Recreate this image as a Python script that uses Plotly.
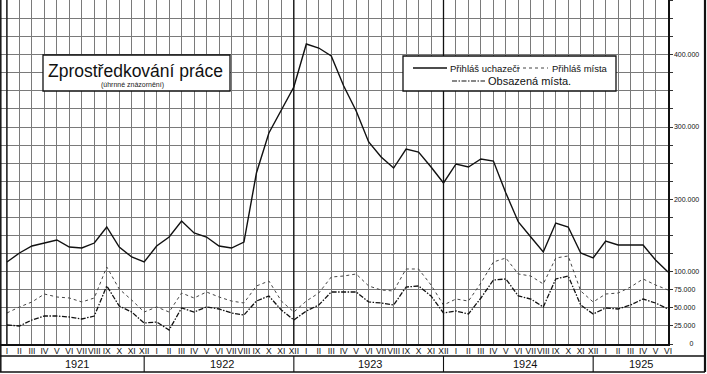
import plotly.graph_objects as go

# ---------------- data ----------------
MONTHS = ["I", "II", "III", "IV", "V", "VI", "VII", "VIII", "IX", "X", "XI", "XII"]
month_labels = MONTHS * 4 + MONTHS[:6]          # I 1921 .. VI 1925
YEARS = ["1921", "1922", "1923", "1924", "1925"]
YEAR_LABEL_POS = [5.6, 17.2, 29.1, 41.5, 50.8]  # centre of each year cell (month index)
YEAR_SEPARATORS = [11, 23, 35, 47]               # December of each year

# Přihláš. uchazeči (registered applicants)
uchazeci = [
    113400, 125800, 135500, 139600, 143800, 134100, 132700, 139600, 161800, 134100, 120300, 113400,
    135500, 147900, 170100, 153500, 147900, 135500, 132700, 141000, 236400, 291700, 323500, 355300,
    414800, 409200, 398200, 356700, 322100, 279300, 258500, 243300, 269600, 265400, 244700, 222600,
    248900, 244700, 255800, 253000, 208800, 168700, 147900, 127200, 167300, 161800, 125800, 118900,
    142400, 136900, 136900, 136900, 116100, 99500,
]
# Přihláš. místa (registered vacancies)
mista = [
    42900, 51200, 58100, 69100, 65000, 63600, 58100, 63600, 106500, 76000, 60800, 44200,
    51200, 44200, 70500, 63600, 71900, 65000, 59400, 56700, 80200, 87100, 59400, 44200,
    59400, 70500, 92600, 94000, 96800, 80200, 74700, 73300, 103700, 103700, 81600, 53900,
    62200, 59400, 84300, 113400, 118900, 96800, 94000, 83000, 118900, 121700, 73300, 58100,
    69100, 70500, 78800, 89900, 81600, 74700,
]
# Obsazená místa (filled vacancies)
obsazena = [
    26300, 24900, 33200, 38700, 38700, 37300, 34600, 38700, 80200, 52500, 44200, 29000,
    30400, 19400, 49800, 44200, 51200, 48400, 42900, 40100, 59400, 66400, 47000, 33200,
    45600, 53900, 71900, 71900, 71900, 58100, 56700, 53900, 78800, 80200, 66400, 42900,
    45600, 41500, 63600, 88500, 89900, 66400, 62200, 51200, 89900, 94000, 53900, 41500,
    49800, 48400, 53900, 62200, 56700, 48400,
]

Y_LABEL_VALUES = [0, 25000, 50000, 75000, 100000, 200000, 300000, 400000]
Y_LABEL_TEXTS = ["\u00a0\u00a0\u00a0\u00a0\u00a0\u00a0\u00a0\u00a00", "25.000", "50.000", "75.000",
                 "100.000", "200.000", "300.000", "400.000"]

TITLE = "Zprostředkování práce"
SUBTITLE = "(úhrnné znázornění)"
NAMES = ["Přihláš uchazeči", "Přihláš místa", "Obsazená místa."]

# ---------------- geometry helpers (layout only) ----------------
W, H = 707, 374
ML, MR, MT, MB = 0, 39, 0, 30
PW, PH = W - ML - MR, H - MT - MB


def px(x):
    return (x - ML) / PW


def py(y):
    return (H - MB - y) / PH


x = list(range(len(month_labels)))

fig = go.Figure()
fig.add_trace(go.Scatter(x=x, y=uchazeci, mode="lines", name=NAMES[0],
                         line=dict(color="#111", width=1.4), showlegend=False))
fig.add_trace(go.Scatter(x=x, y=mista, mode="lines", name=NAMES[1],
                         line=dict(color="#444", width=1, dash="dot"), showlegend=False))
fig.add_trace(go.Scatter(x=x, y=obsazena, mode="lines", name=NAMES[2],
                         line=dict(color="#111", width=1.3, dash="5px,1.5px,1.5px,1.5px"),
                         showlegend=False))

# y ticks: grid every 25 000, labels only on selected values
ymax = 475600
tickvals = list(range(0, 475001, 25000))
ticktext = [Y_LABEL_TEXTS[Y_LABEL_VALUES.index(v)] if v in Y_LABEL_VALUES else "" for v in tickvals]

GRID = "#7a7a7a"
SANS = "Liberation Sans, Arial, sans-serif"

fig.update_layout(
    width=W, height=H,
    margin=dict(l=ML, r=MR, t=MT, b=MB, pad=0, autoexpand=False),
    paper_bgcolor="white", plot_bgcolor="white",
    hovermode=False,
    xaxis=dict(range=[-0.56, 53], tickmode="array", tickvals=x, ticktext=month_labels,
               showgrid=True, gridcolor=GRID, gridwidth=1, zeroline=False, automargin=False,
               showline=True, linecolor="#111", linewidth=1.5, ticks="",
               tickfont=dict(size=8.5, family=SANS, color="#111"), tickangle=0,
               ticklabelstandoff=-2),
    yaxis=dict(range=[0, ymax], side="right", tickmode="array", tickvals=tickvals,
               ticktext=ticktext, showgrid=True, gridcolor=GRID, gridwidth=1, zeroline=False,
               automargin=False,
               showline=True, linecolor="#111", linewidth=1.5, ticks="outside", ticklen=3,
               tickcolor="#333", tickfont=dict(size=7, family=SANS, color="#111")),
)

shapes = []
# darker vertical lines (left axis and two year boundaries)
for m in [0, 23, 35]:
    shapes.append(dict(type="line", xref="x", yref="paper", x0=m, x1=m, y0=0, y1=1,
                       line=dict(color="#111", width=1.3)))
# month / year rows
for yy in [356, 372]:
    shapes.append(dict(type="line", xref="paper", yref="paper", x0=px(0), x1=px(705),
                       y0=py(yy), y1=py(yy), line=dict(color="#111", width=1.3)))
for m in YEAR_SEPARATORS:
    shapes.append(dict(type="line", xref="x", yref="paper", x0=m, x1=m, y0=py(356), y1=py(372),
                       line=dict(color="#111", width=1.1)))
# outer frame
shapes.append(dict(type="line", xref="paper", yref="paper", x0=px(705), x1=px(705),
                   y0=py(0), y1=py(372), line=dict(color="#111", width=2.2)))
shapes.append(dict(type="line", xref="paper", yref="paper", x0=px(0.8), x1=px(0.8),
                   y0=py(0), y1=py(372), line=dict(color="#111", width=1.5)))
# title box
shapes.append(dict(type="rect", xref="paper", yref="paper", x0=px(43), x1=px(230),
                   y0=py(91), y1=py(55), fillcolor="white", line=dict(color="#111", width=1.3),
                   layer="above"))
# legend box
shapes.append(dict(type="rect", xref="paper", yref="paper", x0=px(403), x1=px(616),
                   y0=py(91), y1=py(56), fillcolor="white", line=dict(color="#111", width=1.3),
                   layer="above"))
# legend samples
shapes.append(dict(type="line", xref="paper", yref="paper", x0=px(413), x1=px(447),
                   y0=py(68), y1=py(68), line=dict(color="#111", width=1.3), layer="above"))
shapes.append(dict(type="line", xref="paper", yref="paper", x0=px(517), x1=px(548),
                   y0=py(68), y1=py(68), line=dict(color="#444", width=1, dash="dot"), layer="above"))
shapes.append(dict(type="line", xref="paper", yref="paper", x0=px(452), x1=px(485),
                   y0=py(81), y1=py(81), line=dict(color="#111", width=1.2,
                                                   dash="5px,1.5px,1.5px,1.5px"), layer="above"))

annotations = [
    dict(text=TITLE, xref="paper", yref="paper", x=px(135), y=py(71), showarrow=False,
         xanchor="center", yanchor="middle",
         font=dict(size=17.5, family=SANS, color="#111")),
    dict(text=SUBTITLE, xref="paper", yref="paper", x=px(132), y=py(85), showarrow=False,
         xanchor="center", yanchor="middle",
         font=dict(size=7, family=SANS, color="#222")),
    dict(text=NAMES[0], xref="paper", yref="paper", x=px(448), y=py(68), showarrow=False,
         xanchor="left", yanchor="middle", font=dict(size=9.5, family=SANS, color="#111")),
    dict(text=NAMES[1], xref="paper", yref="paper", x=px(550), y=py(68), showarrow=False,
         xanchor="left", yanchor="middle", font=dict(size=9.5, family=SANS, color="#111")),
    dict(text=NAMES[2], xref="paper", yref="paper", x=px(486), y=py(81.5), showarrow=False,
         xanchor="left", yanchor="middle", font=dict(size=11, family=SANS, color="#111")),
]
for yr, pos in zip(YEARS, YEAR_LABEL_POS):
    annotations.append(dict(text=yr, xref="x", yref="paper", x=pos, y=py(364), showarrow=False,
                            xanchor="center", yanchor="middle",
                            font=dict(size=11, family=SANS, color="#111")))

fig.update_layout(shapes=shapes, annotations=annotations)
fig.write_html("out.html", config={"displayModeBar": False, "staticPlot": True},
               post_script="document.body.style.margin='0px';document.body.style.overflow='hidden';")
